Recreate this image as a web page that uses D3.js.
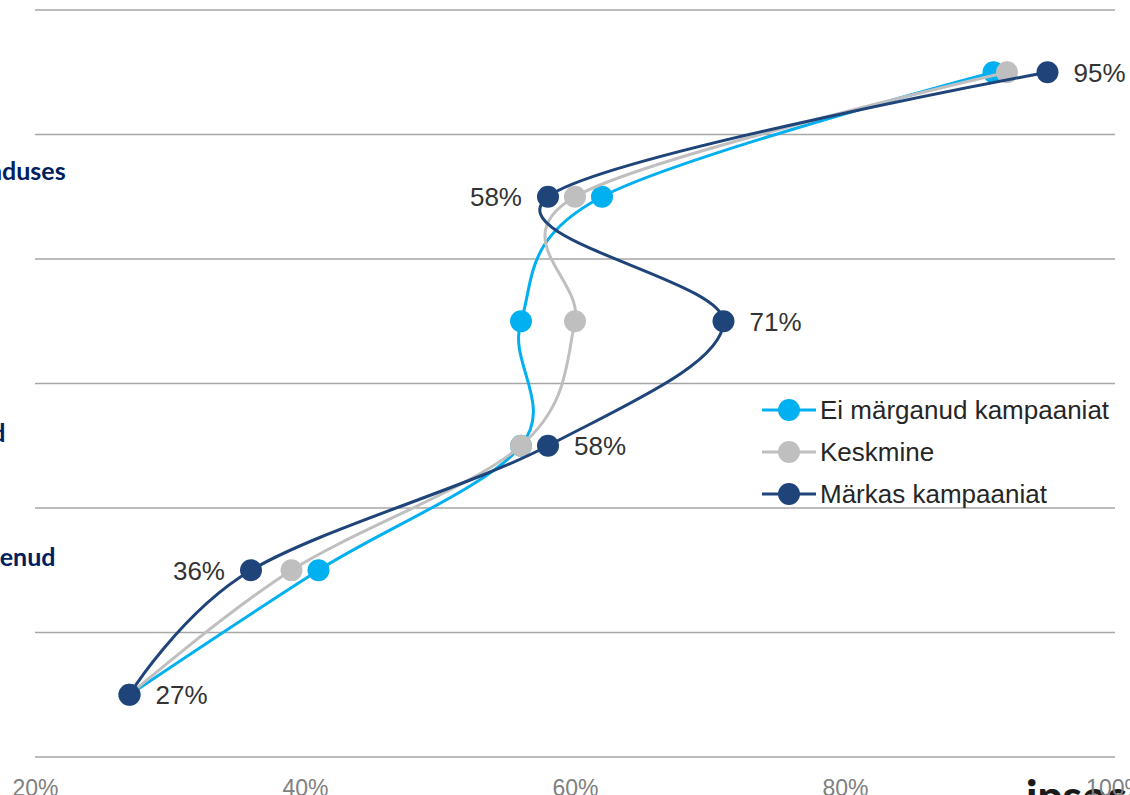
<!DOCTYPE html>
<html>
<head>
<meta charset="utf-8">
<script src="https://cdn.jsdelivr.net/npm/d3@7"></script>
<style>
  html, body { margin: 0; padding: 0; background: #fff; overflow: hidden; }
  svg { display: block; }
</style>
</head>
<body>
<svg id="chart" width="1130" height="795"></svg>
<script>
// Statements (rows), each wrapped over several lines
const categories = [
  ["Usaldusväärne"],
  ["Positiivne kogemus ka teeninduses", "ja klienditoes", "viimasel ajal"],
  ["Hinnad on mõistlikud"],
  ["Pakkumised on soodsad", "ja arusaadavad"],
  ["Ettevõtte maine on ka paranenud", "viimasel aastal"],
  ["Soovitaksin sõbrale"]
];

const seriesNames = ["Ei märganud kampaaniat", "Keskmine", "Märkas kampaaniat"];
const seriesColors = ["#00B0F0", "#BFBFBF", "#1F4479"];

// Share agreeing (%) per row
const eiMarganud = [91, 62, 56, 56, 41, 27];
const keskmine   = [92, 60, 60, 56, 39, 27];
const markas     = [95, 58, 71, 58, 36, 27];

// Which side the value label of "Märkas kampaaniat" sits on
const labelSide = ["right", "left", "right", "right", "left", "right"];

const xTicks = [20, 40, 60, 80, 100];

const svg = d3.select("#chart");

const x = d3.scaleLinear().domain([20, 100]).range([35, 1115]);
const rowIds = d3.range(categories.length);
const yBand = d3.scaleBand().domain(rowIds).range([10, 757]).paddingInner(0).paddingOuter(0);
const y = i => yBand(i) + yBand.bandwidth() / 2;

// Corner logo (partially outside the canvas)
svg.append("text")
  .attr("x", 1026).attr("y", 812)
  .attr("font-family", "Lato, 'Open Sans', sans-serif")
  .attr("font-weight", 900)
  .attr("font-size", 44)
  .attr("fill", "#1a1a1a")
  .text("ipsos");

// Horizontal gridlines on band boundaries
const bounds = rowIds.map(i => yBand(i)).concat([yBand(rowIds.length - 1) + yBand.bandwidth()]);
svg.append("g").selectAll("line").data(bounds).join("line")
  .attr("x1", x(20)).attr("x2", x(100))
  .attr("y1", d => d).attr("y2", d => d)
  .attr("stroke", "#A6A6A6").attr("stroke-width", 1.5);

// Bottom axis labels
const xAxis = d3.axisBottom(x).tickValues(xTicks).tickFormat(d => d + "%").tickSize(0).tickPadding(0);
const gx = svg.append("g").attr("transform", "translate(0, 796)").call(xAxis);
gx.select(".domain").remove();
gx.selectAll("text")
  .attr("font-family", "'Liberation Sans', Arial, sans-serif")
  .attr("font-size", 23)
  .attr("fill", "#808080")
  .attr("y", 0)
  .attr("dy", 0);

// Category labels, centred to the left of the plot
const catG = svg.append("g");
categories.forEach((lines, i) => {
  const lh = 26;
  const y0 = y(i) - (lines.length - 1) * lh / 2;
  const t = catG.append("text")
    .attr("text-anchor", "middle")
    .attr("font-family", "Lato, 'Open Sans', sans-serif")
    .attr("font-weight", 700)
    .attr("font-size", 25)
    .attr("fill", "#002060");
  lines.forEach((ln, k) => {
    t.append("tspan").attr("x", -128).attr("y", y0 + k * lh).attr("dy", "0.35em").text(ln);
  });
});

// Series lines and markers
const allSeries = [eiMarganud, keskmine, markas];
const line = d3.line()
  .x(d => x(d.v))
  .y(d => y(d.i))
  .curve(d3.curveCatmullRom.alpha(0));

allSeries.forEach((vals, s) => {
  const pts = vals.map((v, i) => ({ v, i }));
  const g = svg.append("g");
  g.append("path")
    .attr("d", line(pts))
    .attr("fill", "none")
    .attr("stroke", seriesColors[s])
    .attr("stroke-width", 3);
  g.selectAll("circle").data(pts).join("circle")
    .attr("cx", d => x(d.v))
    .attr("cy", d => y(d.i))
    .attr("r", 11)
    .attr("fill", seriesColors[s]);
});

// Value labels for "Märkas kampaaniat"
svg.append("g").selectAll("text").data(markas).join("text")
  .attr("x", (d, i) => labelSide[i] === "right" ? x(d) + 26 : x(d) - 26)
  .attr("y", (d, i) => y(i))
  .attr("dy", "0.36em")
  .attr("text-anchor", (d, i) => labelSide[i] === "right" ? "start" : "end")
  .attr("font-family", "'Liberation Sans', Arial, sans-serif")
  .attr("font-size", 26)
  .attr("fill", "#333333")
  .text(d => d + "%");

// Legend
const legend = svg.append("g").attr("transform", "translate(762, 410)");
seriesNames.forEach((name, s) => {
  const g = legend.append("g").attr("transform", `translate(0, ${s * 42})`);
  g.append("line").attr("x1", 0).attr("x2", 54).attr("y1", 0).attr("y2", 0)
    .attr("stroke", seriesColors[s]).attr("stroke-width", 3);
  g.append("circle").attr("cx", 27).attr("cy", 0).attr("r", 11).attr("fill", seriesColors[s]);
  g.append("text").attr("x", 58).attr("y", 0).attr("dy", "0.36em")
    .attr("font-family", "'Liberation Sans', Arial, sans-serif")
    .attr("font-size", 26)
    .attr("fill", "#262626")
    .text(name);
});
</script>
</body>
</html>
